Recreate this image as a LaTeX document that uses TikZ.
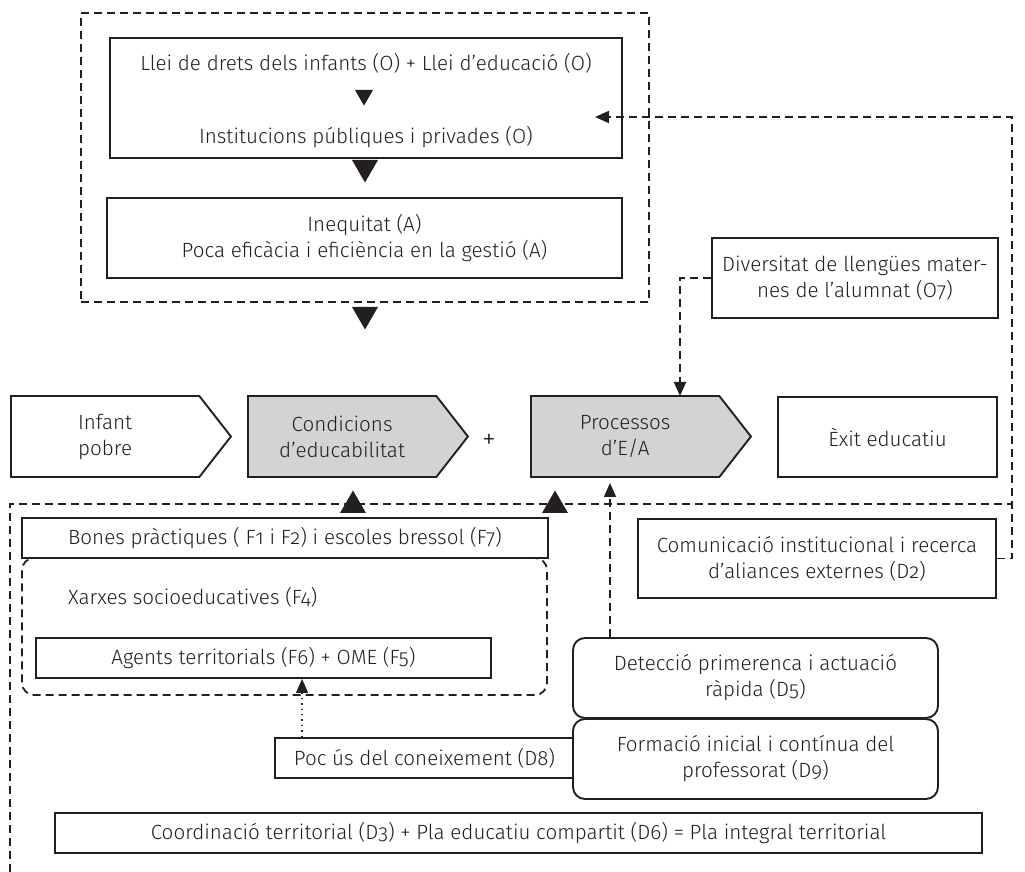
\documentclass[tikz,border=0pt]{standalone}
\usepackage{fontspec}
\setmainfont{Fira Sans}[UprightFont=* Light, Numbers=OldStyle]
\usepackage{xcolor}
\usetikzlibrary{positioning,arrows.meta,shapes.geometric,shapes.symbols}
\definecolor{boxgray}{RGB}{209,211,212}
\definecolor{ink}{RGB}{35,31,32}

\begin{document}
\begin{tikzpicture}[
    x=0.5pt, y=-0.5pt,
    every node/.style={font=\fontsize{10.3}{13}\selectfont, text=ink},
    box/.style     ={draw=ink, line width=0.95pt, inner sep=2pt, align=center, fill=white},
    rbox/.style    ={box, rounded corners=6pt},
    chev/.style    ={box, signal, signal to=east, signal pointer angle=104,
                     minimum width=110pt, minimum height=40.5pt},
    frame/.style   ={draw=ink, line width=0.9pt, dash pattern=on 4pt off 2.5pt},
    dasharr/.style ={frame, -{Triangle[length=7pt, width=6pt]}},
    dotarr/.style  ={draw=ink, line width=0.7pt, dotted, -{Triangle[length=7pt, width=6pt]}},
    tridown/.style ={regular polygon, regular polygon sides=3, shape border rotate=180,
                     fill=ink, inner sep=0pt, minimum size=15pt},
    triup/.style   ={tridown, shape border rotate=0},
    trismall/.style={tridown, minimum size=10.4pt}
  ]
    \useasboundingbox (0,0) rectangle (1025,872);

    % --- institutional frame (top) ---
    \node[frame, minimum width=284pt, minimum height=144.5pt] (inst) at (365,157.5) {};
    \node[box, minimum width=256pt, minimum height=60pt] (llei) at (366,98) {};
    \node (llei1) at (366,63) {Llei de drets dels infants (O) + Llei d’educació (O)};
    \node[trismall] (t0) at (364,95.2) {};
    \node (llei2) at (366,137) {Institucions públiques i privades (O)};
    \node[tridown] (t1) at (365,167.5) {};
    \node[box, minimum width=257.5pt, minimum height=40pt] (ineq) at (364.5,238)
      {Inequitat (A)\\Poca eficàcia i eficiència en la gestió (A)};
    \node[tridown] (t2) at (365,314.5) {};

    \node[box, minimum width=143pt, minimum height=40pt] (div) at (855,278)
      {Diversitat de llengües mater-\\nes de l’alumnat (O7)};

    % --- main row ---
    \node[chev, anchor=west] (inf) at (10,436.5) {Infant\\pobre};
    \node[chev, fill=boxgray, anchor=west] (cond) at (247,436.5) {Condicions\\d’educabilitat};
    \node[font=\fontsize{14}{14}\selectfont] (plus) at (489,441) {+};
    \node[chev, fill=boxgray, anchor=west] (proc) at (530,436.5) {Processos\\d’E/A};
    \node[box, minimum width=109.5pt, minimum height=40pt] (exit) at (887.5,437) {Èxit educatiu};

    % --- territorial frame (bottom) ---
    \draw[frame] (10,872) -- (10,504) -- (1012,504);
    \node[triup] (t3) at (353,505.5) {};
    \node[triup] (t4) at (555,505.5) {};

    \node[box, minimum width=263pt, minimum height=20pt] (bones) at (285,538)
      {Bones pràctiques ( F1 i F2) i escoles bressol (F7)};
    \node[frame, rounded corners=6pt, minimum width=262.5pt, minimum height=68.5pt] (xarx) at (284.5,626.5) {};
    \node[anchor=west] (xarxlab) at (61,597) {Xarxes socioeducatives (F4)};
    \node[box, minimum width=227.5pt, minimum height=20pt] (agents) at (263.5,658)
      {Agents territorials (F6) + OME (F5)};

    \node[box, minimum width=179pt, minimum height=39.5pt] (com) at (817,558.5)
      {Comunicació institucional i recerca\\d’aliances externes (D2)};

    \node[box, minimum width=149.5pt, minimum height=20pt] (poc) at (424.5,758)
      {Poc ús del coneixement (D8)};
    \node[rbox, minimum width=182.5pt, minimum height=40pt] (det) at (755.5,678)
      {Detecció primerenca i actuació\\ràpida (D5)};
    \node[rbox, minimum width=182.5pt, minimum height=40pt] (form) at (755.5,759)
      {Formació inicial i contínua del\\professorat (D9)};

    \node[box, minimum width=463.5pt, minimum height=20pt] (coord) at (518.5,833)
      {Coordinació territorial (D3) + Pla educatiu compartit (D6) = Pla integral territorial};

    % --- connectors ---
    \coordinate (fb)  at (595,117);
    \coordinate (fbc) at (1012,117);
    \coordinate (pin) at (680,396);
    \coordinate (pup) at (610,483);
    \coordinate (pocup) at ([xshift=14pt]poc.north west);

    \draw[dasharr] (com.east) -| (fbc) -- (fb);
    \draw[dasharr] (div.west) -| (pin);
    \draw[dasharr] (det.north -| pup) -- (pup);
    \draw[dotarr] (pocup) -- (pocup |- agents.south);
  \end{tikzpicture}
\end{document}
